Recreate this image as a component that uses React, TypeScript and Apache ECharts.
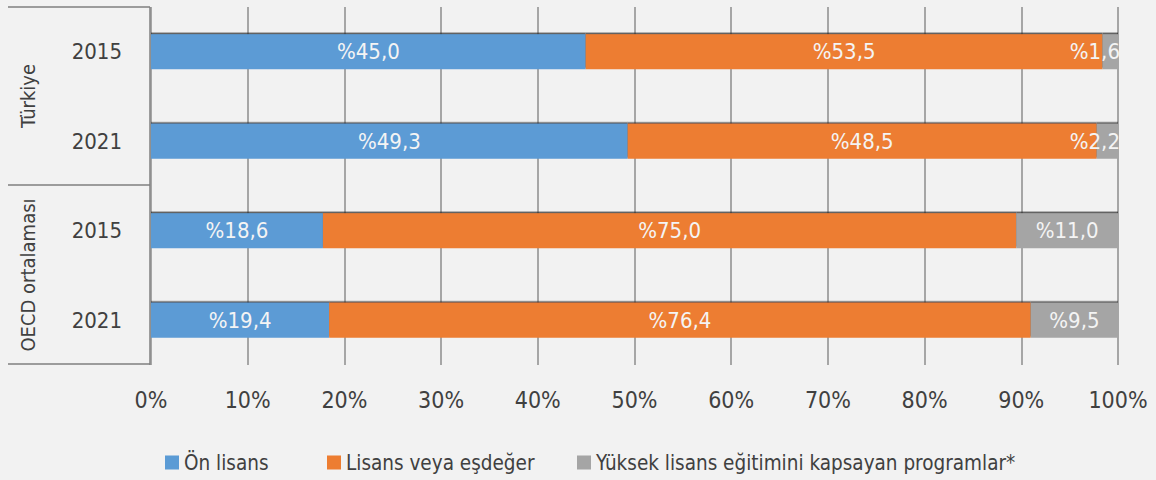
import React, { useEffect, useRef } from "react";
import * as echarts from "echarts";

const groups = ["Türkiye", "OECD ortalaması"];
const years = ["2015", "2021", "2015", "2021"];
const categories = ["Türkiye 2015", "Türkiye 2021", "OECD 2015", "OECD 2021"];
const seriesNames = ["Ön lisans", "Lisans veya eşdeğer", "Yüksek lisans eğitimini kapsayan programlar*"];
const onLisans = [45.0, 49.3, 18.6, 19.4];
const lisans = [53.5, 48.5, 75.0, 76.4];
const yuksekLisans = [1.6, 2.2, 11.0, 9.5];
const xTicks = [0, 10, 20, 30, 40, 50, 60, 70, 80, 90, 100];
const colors = ["#5b9bd5", "#ed7d31", "#a5a5a5"];

const FONT = "'DejaVu Sans Condensed', 'DejaVu Sans', sans-serif";
const TXT = "#404040";

export default function App() {
  const ref = useRef<HTMLDivElement>(null);
  useEffect(() => {
    if (!ref.current) return;
    const chart = echarts.init(ref.current, undefined, { renderer: "svg" });
    const raw = [onLisans, lisans, yuksekLisans];
    const totals = categories.map((_, i) => raw.reduce((s, arr) => s + arr[i], 0));
    const fmt = (v: number) => "%" + v.toFixed(1).replace(".", ",");

    const series = raw.map((arr, si) => ({
      name: seriesNames[si],
      type: "bar",
      stack: "total",
      barWidth: 35,
      itemStyle: {
        color: colors[si],
        shadowColor: "rgba(40,40,40,0.8)",
        shadowOffsetY: -1.5,
        shadowBlur: 0,
      },
      data: arr.map((v, i) => {
        const pct = (v / totals[i]) * 100;
        const small = pct < 5;
        return {
          value: pct,
          label: {
            show: true,
            position: small ? "insideRight" : "inside",
            distance: small ? -2 : 5,
            formatter: () => fmt(v),
            color: "#f4f4f4",
            fontFamily: FONT,
            fontSize: 22,
          },
        };
      }),
    }));

    const lineStyle = { stroke: "#7f7f7f", lineWidth: 1.5 };
    chart.setOption({
      animation: false,
      backgroundColor: "#f2f2f2",
      textStyle: { fontFamily: FONT },
      grid: { left: 151, right: 38, top: 7, bottom: 115, containLabel: false },
      xAxis: {
        type: "value",
        min: 0,
        max: 100,
        interval: 10,
        axisLine: { show: false },
        axisTick: { show: false },
        splitLine: { show: true, lineStyle: { color: "#8c8c8c", width: 1.5 } },
        axisLabel: {
          formatter: (v: number) => (xTicks.includes(v) ? v + "%" : ""),
          color: TXT,
          fontFamily: FONT,
          fontSize: 23,
          margin: 23,
        },
      },
      yAxis: {
        type: "category",
        inverse: true,
        data: categories,
        axisLine: { show: false },
        axisTick: { show: false },
        axisLabel: {
          formatter: (_: string, i: number) => years[i],
          color: TXT,
          fontFamily: FONT,
          fontSize: 22,
          margin: 29,
        },
      },
      legend: seriesNames.map((n, i) => ({
        data: [n],
        left: [160, 322, 572][i],
        top: 447,
        itemWidth: 14,
        itemHeight: 14,
        icon: "rect",
        itemGap: 0,
        textStyle: { color: TXT, fontFamily: FONT, fontSize: 20.5 },
      })),
      graphic: [
        { type: "line", shape: { x1: 8, y1: 7, x2: 150, y2: 7 }, style: lineStyle },
        { type: "line", shape: { x1: 150, y1: 7, x2: 150, y2: 365 }, style: lineStyle },
        { type: "line", shape: { x1: 8, y1: 185, x2: 150, y2: 185 }, style: lineStyle },
        { type: "line", shape: { x1: 8, y1: 364, x2: 150, y2: 364 }, style: lineStyle },
        {
          type: "text",
          x: 28,
          y: 96,
          rotation: Math.PI / 2,
          style: { text: groups[0], fill: TXT, font: `20px ${FONT}`, textAlign: "center", textVerticalAlign: "middle" },
        },
        {
          type: "text",
          x: 28,
          y: 275,
          rotation: Math.PI / 2,
          style: { text: groups[1], fill: TXT, font: `20px ${FONT}`, textAlign: "center", textVerticalAlign: "middle" },
        },
      ],
      series,
    });
    return () => chart.dispose();
  }, []);
  return <div ref={ref} style={{ position: "fixed", left: 0, top: 0, width: 1156, height: 480 }} />;
}
